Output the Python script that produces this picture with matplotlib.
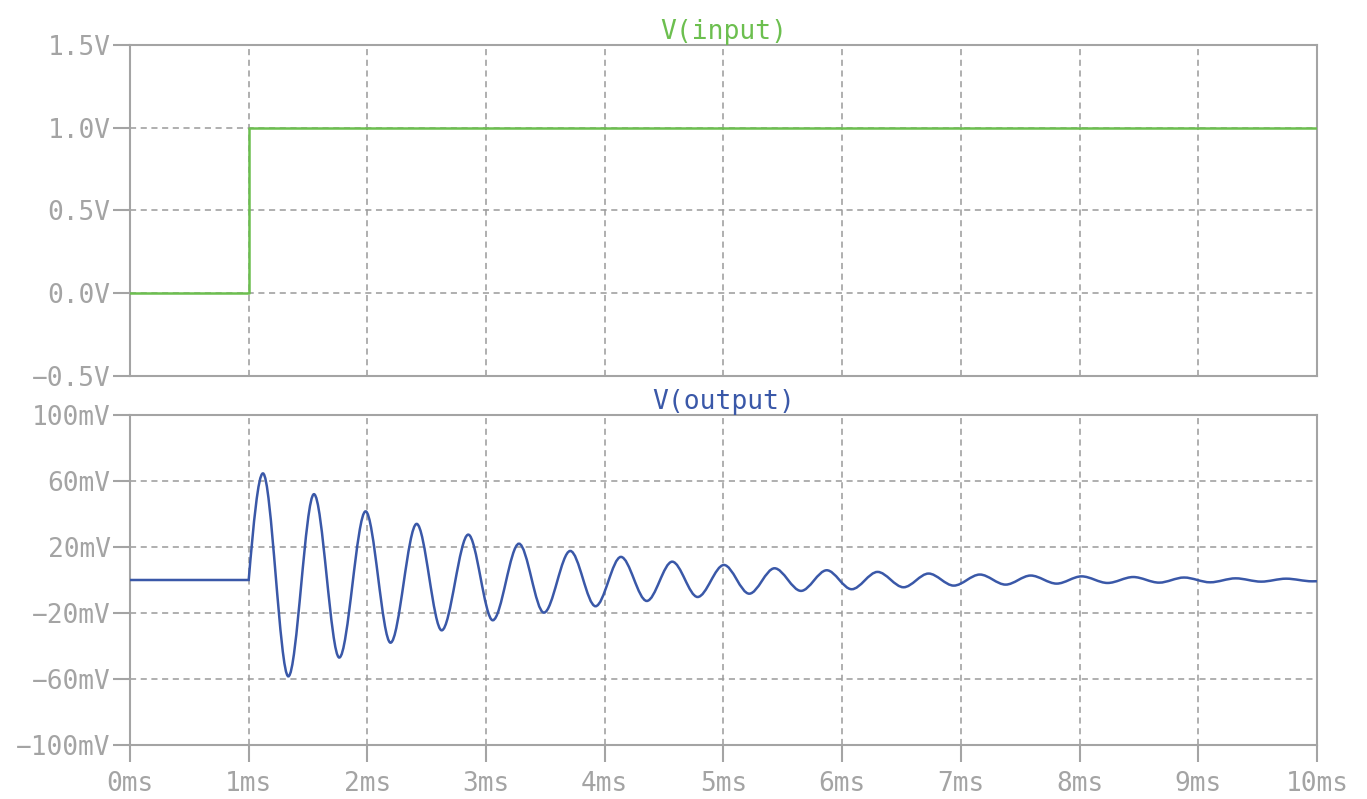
import numpy as np
import matplotlib
matplotlib.use("Agg")
import matplotlib.pyplot as plt
from matplotlib.path import Path
from matplotlib.patches import PathPatch
from matplotlib.ticker import FuncFormatter

# input step (ms, V)
in_t = [0.0, 1.0, 1.0, 10.0]
in_v = [0.0, 0.0, 1.0, 1.0]

# output: flat until 1ms, then ringing; extrema (ms, mV)
out_t = [1.0, 1.12, 1.334, 1.55, 1.763, 1.985, 2.195, 2.415, 2.626, 2.85,
         3.056, 3.277, 3.487, 3.709, 3.922, 4.136, 4.354, 4.568, 4.782, 5.004,
         5.217, 5.43, 5.653, 5.87, 6.08, 6.298, 6.517, 6.728, 6.94, 7.16,
         7.377, 7.588, 7.807, 8.017, 8.236, 8.452, 8.67, 8.88, 9.10, 9.315,
         9.53, 9.74, 9.96]
out_v = [0.0, 64.6, -58.4, 52.0, -47.0, 41.6, -38.0, 34.0, -30.5, 27.5,
         -24.4, 22.0, -19.8, 17.6, -15.9, 14.0, -12.7, 11.1, -10.3, 9.1,
         -8.3, 7.1, -6.6, 5.9, -5.6, 4.9, -4.4, 3.9, -3.4, 3.3,
         -2.8, 2.7, -2.2, 2.2, -1.8, 1.8, -1.6, 1.5, -1.4, 1.0,
         -1.0, 0.8, -0.8]
end_v = -0.75

x_ticks = list(range(0, 11))
top_ticks = [-0.5, 0.0, 0.5, 1.0, 1.5]
bot_ticks = [-100, -60, -20, 20, 60, 100]

GREEN = "#6cbf4f"
BLUE = "#3a58a8"
GRAY = "#a4a4a4"
GRID = "#9a9a9a"

plt.rcParams["font.family"] = ["DejaVu Sans Mono"]
plt.rcParams["font.size"] = 18

fig = plt.figure(figsize=(13.67, 7.99), dpi=100)
ax1 = fig.add_axes([0.0951, 0.5294, 0.8683, 0.4143])
ax2 = fig.add_axes([0.0951, 0.0676, 0.8683, 0.4130])


def style(ax):
    for s in ax.spines.values():
        s.set_color(GRAY)
        s.set_linewidth(1.5)
    ax.tick_params(colors=GRAY, labelcolor=GRAY, length=12, width=1.5,
                   labelsize=18.8, pad=2)
    ax.tick_params(axis="x", pad=7)
    ax.grid(True, color=GRID, linestyle=(0, (4, 3)), linewidth=1.1)
    ax.set_axisbelow(True)
    ax.set_xlim(0, 10)
    ax.set_xticks(x_ticks)


def minus(s):
    return s.replace("-", "\u2212")


# top: input
style(ax1)
ax1.plot(in_t, in_v, color=GREEN, lw=1.8, zorder=3)
ax1.set_ylim(-0.5, 1.5)
ax1.set_yticks(top_ticks)
ax1.yaxis.set_major_formatter(FuncFormatter(lambda v, p: minus(f"{v:.1f}V")))
ax1.tick_params(axis="x", length=0, labelbottom=False)
ax1.set_title("V(input)", color=GREEN, fontsize=19, pad=3)

# bottom: output, drawn as smooth half-waves between extrema
style(ax2)
ax2.set_ylim(-100, 100)
ax2.set_yticks(bot_ticks)
ax2.yaxis.set_major_formatter(FuncFormatter(lambda v, p: minus(f"{v:.0f}mV")))
ax2.xaxis.set_major_formatter(FuncFormatter(lambda v, p: f"{v:.0f}ms"))
ax2.set_title("V(output)", color=BLUE, fontsize=19, pad=3)

verts = [(0.0, 0.0), (out_t[0], out_v[0])]
codes = [Path.MOVETO, Path.LINETO]
for i in range(len(out_t) - 1):
    t0, v0 = out_t[i], out_v[i]
    t1, v1 = out_t[i + 1], out_v[i + 1]
    dt = t1 - t0
    if i == 0:
        # quarter wave from the zero crossing up to the first peak
        c1 = (t0 + dt / 3, v0 + (v1 - v0) * np.pi / 6)
    else:
        c1 = (t0 + dt / 3, v0)
    c2 = (t1 - dt / 3, v1)
    verts += [c1, c2, (t1, v1)]
    codes += [Path.CURVE4] * 3
verts.append((10.0, end_v))
codes.append(Path.LINETO)
ax2.add_patch(PathPatch(Path(verts, codes), fill=False, edgecolor=BLUE,
                        lw=1.8, zorder=3))

fig.savefig("out.png", dpi=100)
